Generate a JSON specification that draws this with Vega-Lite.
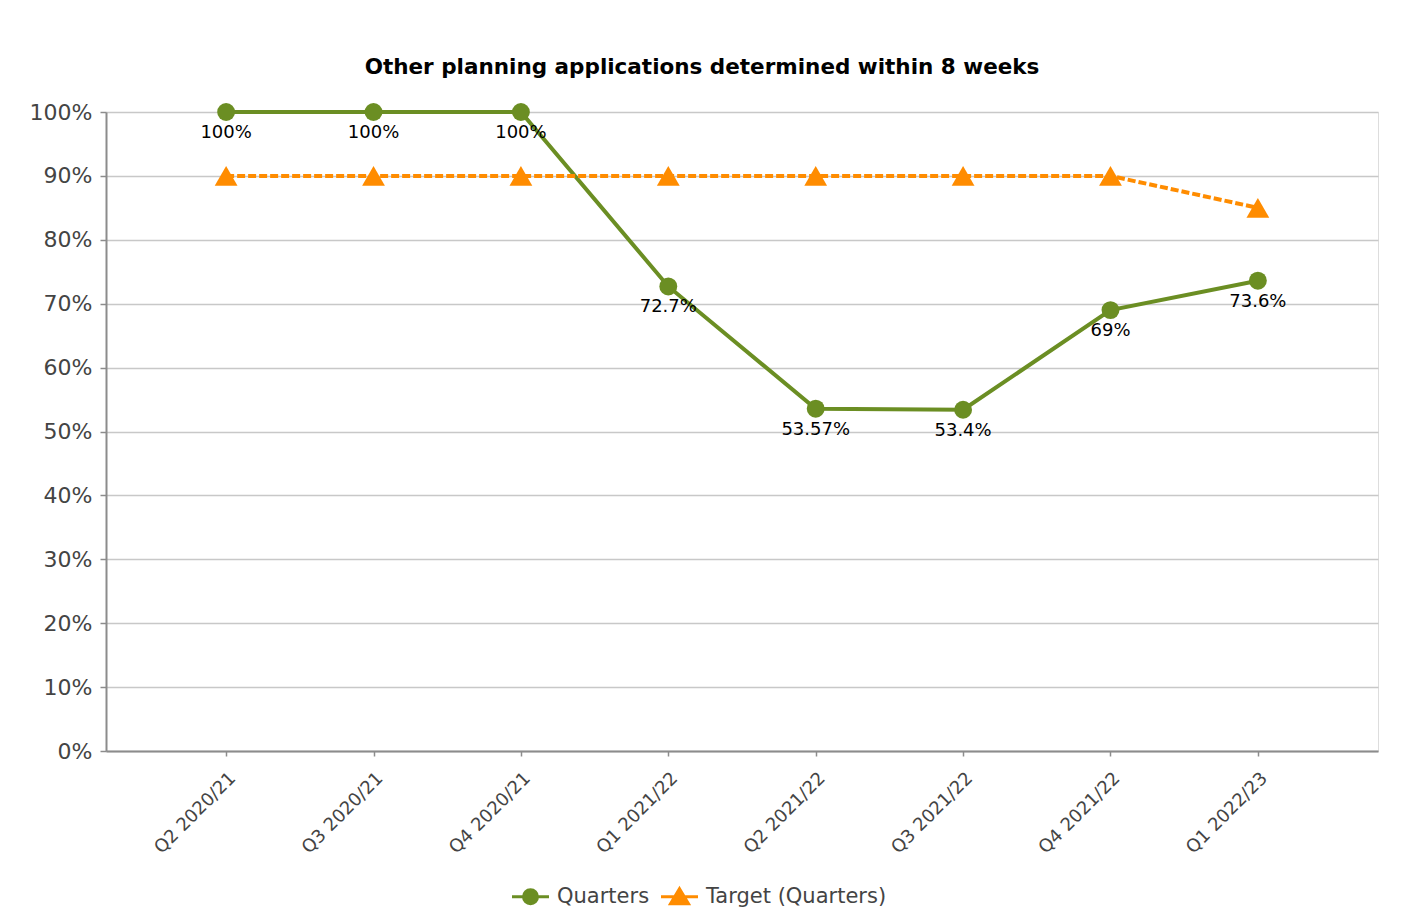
{
  "$schema": "https://vega.github.io/schema/vega-lite/v6.json",
  "autosize": {"type": "none"},
  "width": 1272,
  "height": 639,
  "padding": {"left": 106, "top": 112, "right": 30, "bottom": 167},
  "background": "white",
  "title": {
    "text": "Other planning applications determined within 8 weeks",
    "font": "DejaVu Sans",
    "fontSize": 21.5,
    "fontWeight": "bold",
    "color": "#000000",
    "anchor": "middle",
    "frame": "group",
    "baseline": "alphabetic",
    "dx": -40,
    "offset": 6
  },
  "data": {
    "values": [
      {"quarter": "Q2 2020/21", "series": "Quarters", "value": 1},
      {"quarter": "Q3 2020/21", "series": "Quarters", "value": 1},
      {"quarter": "Q4 2020/21", "series": "Quarters", "value": 1},
      {"quarter": "Q1 2021/22", "series": "Quarters", "value": 0.727},
      {"quarter": "Q2 2021/22", "series": "Quarters", "value": 0.5357},
      {"quarter": "Q3 2021/22", "series": "Quarters", "value": 0.534},
      {"quarter": "Q4 2021/22", "series": "Quarters", "value": 0.69},
      {"quarter": "Q1 2022/23", "series": "Quarters", "value": 0.736},
      {"quarter": "Q2 2020/21", "series": "Target (Quarters)", "value": 0.9},
      {"quarter": "Q3 2020/21", "series": "Target (Quarters)", "value": 0.9},
      {"quarter": "Q4 2020/21", "series": "Target (Quarters)", "value": 0.9},
      {"quarter": "Q1 2021/22", "series": "Target (Quarters)", "value": 0.9},
      {"quarter": "Q2 2021/22", "series": "Target (Quarters)", "value": 0.9},
      {"quarter": "Q3 2021/22", "series": "Target (Quarters)", "value": 0.9},
      {"quarter": "Q4 2021/22", "series": "Target (Quarters)", "value": 0.9},
      {"quarter": "Q1 2022/23", "series": "Target (Quarters)", "value": 0.85}
    ]
  },
  "encoding": {
    "x": {
      "field": "quarter",
      "type": "ordinal",
      "sort": null,
      "scale": {"type": "point", "padding": 0.815},
      "axis": {
        "title": null,
        "labelAngle": -45,
        "labelFont": "DejaVu Sans",
        "labelFontSize": 18,
        "labelColor": "#444444",
        "domainColor": "#8c8c8c",
        "domainWidth": 2,
        "tickColor": "#8c8c8c",
        "tickWidth": 1.5,
        "tickSize": 5,
        "labelPadding": 13,
        "grid": false
      }
    },
    "y": {
      "field": "value",
      "type": "quantitative",
      "scale": {"domain": [0, 1], "nice": false},
      "axis": {
        "title": null,
        "format": ".0%",
        "values": [0, 0.1, 0.2, 0.3, 0.4, 0.5, 0.6, 0.7, 0.8, 0.9, 1],
        "labelFont": "DejaVu Sans",
        "labelFontSize": 22,
        "labelColor": "#444444",
        "domainColor": "#8c8c8c",
        "domainWidth": 2,
        "tickColor": "#8c8c8c",
        "tickWidth": 1.5,
        "tickSize": 6,
        "labelPadding": 8,
        "grid": true,
        "gridColor": "#c8c8c8",
        "gridWidth": 1.5
      }
    }
  },
  "layer": [
    {
      "transform": [{"filter": "datum.series == 'Quarters'"}],
      "mark": {"type": "line", "strokeWidth": 4, "color": "#6b8e23"}
    },
    {
      "transform": [{"filter": "datum.series == 'Target (Quarters)'"}],
      "mark": {"type": "line", "strokeWidth": 4, "color": "#ff8c00", "strokeDash": [8, 3]}
    },
    {
      "transform": [{"filter": "datum.series == 'Quarters'"}],
      "mark": {"type": "point", "filled": true, "opacity": 1, "shape": "circle", "size": 320, "color": "#6b8e23"}
    },
    {
      "transform": [{"filter": "datum.series == 'Target (Quarters)'"}],
      "mark": {"type": "point", "filled": true, "opacity": 1, "shape": "triangle-up", "size": 520, "color": "#ff8c00"}
    },
    {
      "transform": [{"filter": "datum.series == 'Quarters'"}],
      "mark": {"type": "text", "dy": 21, "font": "DejaVu Sans", "fontSize": 18, "color": "#000000"},
      "encoding": {
        "text": {"field": "value", "type": "quantitative", "format": ".2~%"}
      }
    },
    {
      "mark": {"type": "point", "opacity": 0, "strokeWidth": 3},
      "encoding": {
        "fill": {
          "field": "series",
          "type": "nominal",
          "scale": {"domain": ["Quarters", "Target (Quarters)"], "range": ["#6b8e23", "#ff8c00"]},
          "legend": {
            "title": null,
            "orient": "none",
            "direction": "horizontal",
            "legendX": 413,
            "legendY": 773,
            "labelFont": "DejaVu Sans",
            "labelFontSize": 21,
            "labelColor": "#444444",
            "labelLimit": 0,
            "symbolSize": 400,
            "symbolStrokeWidth": 3,
            "symbolOpacity": 1,
            "columnPadding": 5,
            "labelOffset": 15
          }
        },
        "stroke": {
          "field": "series",
          "type": "nominal",
          "scale": {"domain": ["Quarters", "Target (Quarters)"], "range": ["#6b8e23", "#ff8c00"]},
          "legend": {
            "title": null,
            "orient": "none",
            "direction": "horizontal",
            "legendX": 413,
            "legendY": 773,
            "labelFont": "DejaVu Sans",
            "labelFontSize": 21,
            "labelColor": "#444444",
            "labelLimit": 0,
            "symbolSize": 400,
            "symbolStrokeWidth": 3,
            "symbolOpacity": 1,
            "columnPadding": 5,
            "labelOffset": 15
          }
        },
        "shape": {
          "field": "series",
          "type": "nominal",
          "scale": {
            "domain": ["Quarters", "Target (Quarters)"],
            "range": [
              "M-1.85,0H1.85M0.7,0A0.7,0.7,0,1,1,-0.7,0A0.7,0.7,0,1,1,0.7,0",
              "M-1.85,0H1.85M0,-0.8L0.9,0.7H-0.9Z"
            ]
          },
          "legend": {
            "title": null,
            "orient": "none",
            "direction": "horizontal",
            "legendX": 413,
            "legendY": 773,
            "labelFont": "DejaVu Sans",
            "labelFontSize": 21,
            "labelColor": "#444444",
            "labelLimit": 0,
            "symbolSize": 400,
            "symbolStrokeWidth": 3,
            "symbolOpacity": 1,
            "columnPadding": 5,
            "labelOffset": 15
          }
        }
      }
    }
  ]
}
